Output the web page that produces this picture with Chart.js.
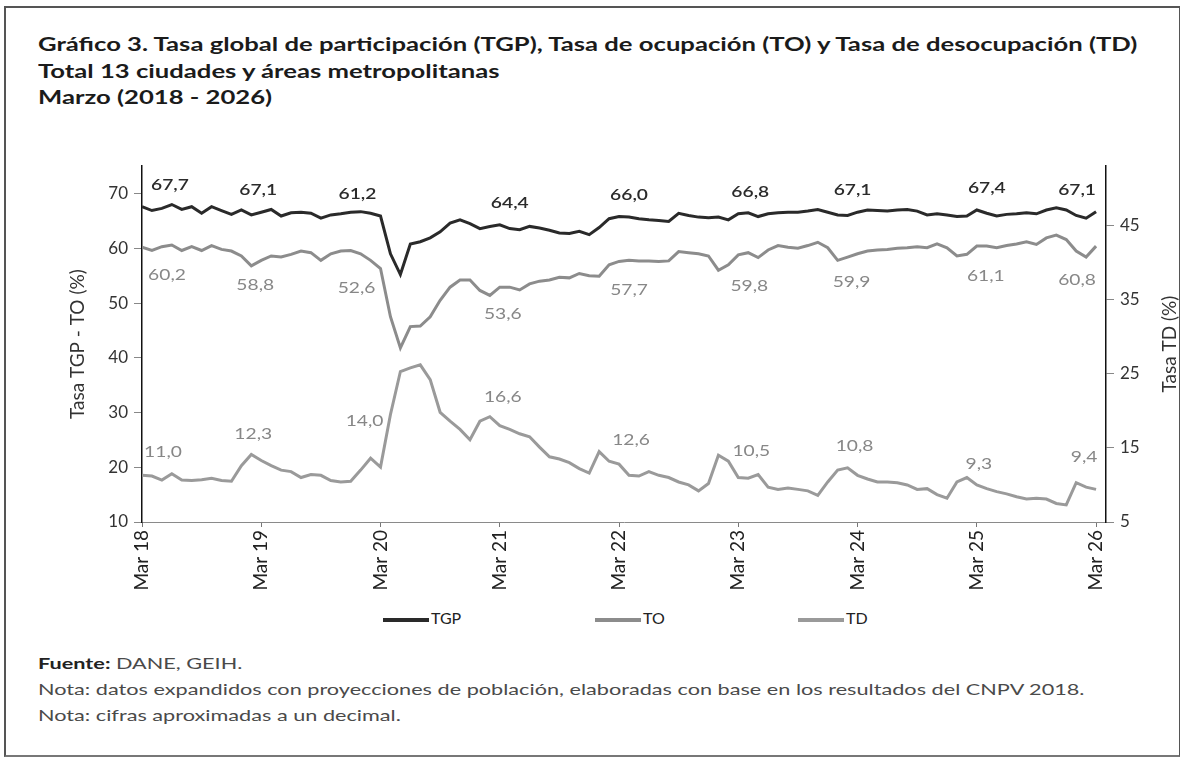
<!DOCTYPE html>
<html lang="es">
<head>
  <meta charset="UTF-8">
  <title>Gráfico 3. TGP, TO y TD</title>
  <style>
    body {
      margin: 0;
      background: #fff;
      font-family: Lato, "Open Sans", sans-serif;
    }
    .page {
      position: relative;
      width: 1185px;
      height: 762px;
      overflow: hidden;
    }
    .frame {
      position: absolute;
      left: 4px;
      top: 6px;
      width: 1176px;
      height: 751px;
      border: 2px solid #555;
      border-right-width: 1px;
      border-bottom-color: #777;
      box-sizing: border-box;
    }
    .title {
      position: absolute;
      left: 38px;
      top: 31px;
      font-weight: 700;
      font-size: 19px;
      line-height: 26.5px;
      color: #1b1b1b;
      white-space: nowrap;
      transform: scaleX(1.35);
      transform-origin: 0 0;
    }
    .chart-box {
      position: absolute;
      left: 60px;
      top: 150px;
    }
    .legend div {
      position: absolute;
      top: 609px;
      font-size: 16px;
      color: #222;
      height: 18px;
      line-height: 18px;
      white-space: nowrap;
    }
    .legend i {
      display: inline-block;
      width: 46px;
      height: 4px;
      vertical-align: middle;
      margin-right: 2px;
    }
    .notes {
      position: absolute;
      left: 38px;
      top: 650px;
      font-size: 16px;
      line-height: 26px;
      color: #4a4a4a;
      white-space: nowrap;
      transform: scaleX(1.354);
      transform-origin: 0 0;
    }
    .notes b { color: #222; }
  </style>
</head>
<body>
<div class="page">
  <div class="frame"></div>
  <div class="title">
    Gráfico 3. Tasa global de participación (TGP), Tasa de ocupación (TO) y Tasa de desocupación (TD)<br>
    Total 13 ciudades y áreas metropolitanas<br>
    Marzo (2018 - 2026)
  </div>

  <div class="chart-box">
    <canvas id="chart" width="1120" height="450"></canvas>
  </div>

  <div class="legend">
    <div style="left:383px"><i style="background:#2a2a2a"></i>TGP</div>
    <div style="left:595px"><i style="background:#8c8c8c"></i>TO</div>
    <div style="left:798px"><i style="background:#9a9a9a"></i>TD</div>
  </div>

  <div class="notes">
    <b>Fuente:</b> DANE, GEIH.<br>
    Nota: datos expandidos con proyecciones de población, elaboradas con base en los resultados del CNPV 2018.<br>
    Nota: cifras aproximadas a un decimal.
  </div>
</div>

<script src="https://cdn.jsdelivr.net/npm/chart.js"></script>
<script>
  // eje x: un punto por mes, de marzo 2018 a marzo 2026
  const tickLabels = ['Mar 18', 'Mar 19', 'Mar 20', 'Mar 21', 'Mar 22', 'Mar 23', 'Mar 24', 'Mar 25', 'Mar 26'];
  const leftTicks = [10, 20, 30, 40, 50, 60, 70];
  const rightTicks = [5, 15, 25, 35, 45];

  // Tasa global de participación (eje izquierdo)
  const tgp = [
    67.6, 66.9, 67.3, 68.0, 67.1, 67.6, 66.4, 67.6, 66.9, 66.2,
    67.0, 66.1, 66.6, 67.1, 65.9, 66.5, 66.6, 66.4, 65.5, 66.1,
    66.3, 66.6, 66.7, 66.4, 65.9, 59.0, 55.2, 60.8, 61.2, 61.9,
    63.0, 64.6, 65.2, 64.5, 63.6, 64.0, 64.3, 63.6, 63.4, 64.0,
    63.7, 63.3, 62.8, 62.7, 63.1, 62.5, 63.8, 65.4, 65.8, 65.7,
    65.4, 65.2, 65.1, 64.9, 66.4, 66.0, 65.7, 65.6, 65.7, 65.2,
    66.3, 66.5, 65.8, 66.3, 66.5, 66.6, 66.6, 66.8, 67.1, 66.6,
    66.1, 66.0, 66.6, 67.0, 66.9, 66.8, 67.0, 67.1, 66.8, 66.1,
    66.3, 66.1, 65.8, 65.9, 67.0, 66.4, 65.9, 66.2, 66.3, 66.5,
    66.3, 67.0, 67.4, 67.0, 66.0, 65.5, 66.7
  ];

  // Tasa de ocupación (eje izquierdo)
  const to = [
    60.2, 59.6, 60.3, 60.6, 59.6, 60.3, 59.6, 60.5, 59.8, 59.5,
    58.6, 56.8, 57.8, 58.6, 58.4, 58.9, 59.5, 59.2, 57.8, 59.0,
    59.5, 59.6, 59.0, 57.8, 56.3, 47.5, 41.8, 45.7, 45.8, 47.5,
    50.5, 52.9, 54.2, 54.2, 52.3, 51.4, 52.9, 52.9, 52.4, 53.5,
    54.0, 54.2, 54.7, 54.6, 55.4, 55.0, 54.9, 57.0, 57.6, 57.8,
    57.7, 57.7, 57.6, 57.7, 59.4, 59.2, 59.0, 58.6, 56.0, 57.0,
    58.8, 59.2, 58.3, 59.7, 60.5, 60.2, 60.0, 60.5, 61.1, 60.1,
    57.8, 58.4, 59.0, 59.5, 59.7, 59.8, 60.0, 60.1, 60.3, 60.1,
    60.8, 60.1, 58.6, 58.9, 60.4, 60.4, 60.1, 60.5, 60.8, 61.2,
    60.7, 61.9, 62.4, 61.6, 59.5, 58.4, 60.4
  ];

  // Tasa de desocupación (eje derecho)
  const td = [
    11.3, 11.2, 10.65, 11.5, 10.65, 10.6, 10.7, 10.9, 10.6, 10.5,
    12.6, 14.1, 13.3, 12.6, 12.0, 11.8, 11.0, 11.4, 11.3, 10.6,
    10.4, 10.5, 12.0, 13.6, 12.4, 19.5, 25.3, 25.8, 26.2, 24.2,
    19.8, 18.6, 17.5, 16.1, 18.6, 19.2, 18.0, 17.5, 16.9, 16.5,
    15.1, 13.8, 13.5, 13.0, 12.2, 11.6, 14.5, 13.2, 12.8, 11.3,
    11.2, 11.8, 11.3, 11.0, 10.4, 10.0, 9.2, 10.2, 14.0, 13.2,
    11.0, 10.9, 11.4, 9.7, 9.4, 9.6, 9.4, 9.2, 8.6, 10.4,
    12.0, 12.3, 11.3, 10.8, 10.4, 10.4, 10.3, 10.0, 9.4, 9.5,
    8.7, 8.2, 10.4, 11.0, 10.0, 9.5, 9.1, 8.8, 8.4, 8.1,
    8.2, 8.1, 7.5, 7.3, 10.3, 9.7, 9.4
  ];

  // cifras rotuladas en cada marzo
  const tgpMarch = [67.7, 67.1, 61.2, 64.4, 66.0, 66.8, 67.1, 67.4, 67.1];
  const toMarch = [60.2, 58.8, 52.6, 53.6, 57.7, 59.8, 59.9, 61.1, 60.8];
  const tdMarch = [11.0, 12.3, 14.0, 16.6, 12.6, 10.5, 10.8, 9.3, 9.4];

  // desplazamientos de los rótulos (px) respecto al punto de marzo
  const labelPos = {
    tgp: { dx: [28, -3, -23, 10, 10, 12, -5, 10, -19], dy: [-22, -22, -22, -22, -22, -22, -22, -22, -22] },
    to: { dx: [25, -6, -24, 3, 10, 11, -6, 9, -19], dy: [28, 24, 19, 27, 28, 31, 28, 30, 34] },
    td: { dx: [21, -8, -16, 3, 12, 13, -3, 2, -12], dy: [-23, -27, -46, -29, -24, -27, -29, -21, -33] }
  };

  const toXY = arr => arr.map((v, i) => ({ x: i, y: v }));
  const fixTicks = list => s => { s.ticks = list.map(v => ({ value: v })); };

  const marchLabels = {
    id: 'marchLabels',
    afterDatasetsDraw(chart) {
      const { ctx, scales } = chart;
      const groups = [
        { vals: tgpMarch, series: tgp, scale: scales.y, pos: labelPos.tgp, color: '#2b2b2b', font: '600 16px Lato' },
        { vals: toMarch, series: to, scale: scales.y, pos: labelPos.to, color: '#878787', font: '16px Lato' },
        { vals: tdMarch, series: td, scale: scales.y2, pos: labelPos.td, color: '#878787', font: '16px Lato' }
      ];
      ctx.save();
      ctx.textAlign = 'center';
      ctx.textBaseline = 'middle';
      groups.forEach(g => {
        ctx.fillStyle = g.color;
        ctx.font = g.font;
        g.vals.forEach((v, k) => {
          const idx = k * 12;
          const px = scales.x.getPixelForValue(idx) + g.pos.dx[k];
          const py = g.scale.getPixelForValue(g.series[idx]) + g.pos.dy[k];
          ctx.save();
          ctx.translate(px, py);
          ctx.scale(1.2, 1);
          ctx.fillText(v.toFixed(1).replace('.', ','), 0, 0);
          ctx.restore();
        });
      });
      // título del eje derecho, leído de abajo hacia arriba
      const area = chart.chartArea;
      ctx.translate(1110, (area.top + area.bottom) / 2);
      ctx.rotate(-Math.PI / 2);
      ctx.font = '19px Lato';
      ctx.fillStyle = '#333';
      ctx.fillText('Tasa TD (%)', 0, 0);
      ctx.restore();
    }
  };

  new Chart(document.getElementById('chart'), {
    type: 'line',
    data: {
      datasets: [
        { label: 'TGP', data: toXY(tgp), yAxisID: 'y', borderColor: '#2a2a2a', borderWidth: 3 },
        { label: 'TO', data: toXY(to), yAxisID: 'y', borderColor: '#8c8c8c', borderWidth: 3 },
        { label: 'TD', data: toXY(td), yAxisID: 'y2', borderColor: '#9a9a9a', borderWidth: 3 }
      ]
    },
    options: {
      responsive: false,
      animation: false,
      layout: { padding: { top: 12 } },
      elements: { point: { radius: 0 }, line: { tension: 0 } },
      plugins: { legend: { display: false }, tooltip: { enabled: false } },
      scales: {
        x: {
          type: 'linear',
          min: 0,
          max: 97,
          afterBuildTicks: fixTicks(tickLabels.map((t, k) => k * 12)),
          afterFit: s => { s.height = 78; },
          ticks: {
            autoSkip: false,
            minRotation: 90,
            maxRotation: 90,
            padding: 3,
            color: '#222',
            font: { family: 'Lato', size: 19 },
            callback: v => tickLabels[v / 12]
          },
          grid: { drawOnChartArea: false, tickLength: 5, color: '#777' },
          border: { color: '#8a8a8a', width: 1, dash: [2, 1] }
        },
        y: {
          position: 'left',
          min: 10,
          max: 75,
          afterBuildTicks: fixTicks(leftTicks),
          afterFit: s => { s.width = 82; },
          ticks: { padding: 6, color: '#333', font: { family: 'Lato', size: 17 } },
          grid: { drawOnChartArea: false, tickLength: 8, color: '#888' },
          border: { color: '#111', width: 1.5 },
          title: { display: true, text: 'Tasa TGP - TO (%)', color: '#333', font: { family: 'Lato', size: 19 }, padding: { top: 6, bottom: 0 } }
        },
        y2: {
          position: 'right',
          min: 5,
          max: 53,
          afterBuildTicks: fixTicks(rightTicks),
          afterFit: s => { s.width = 74; },
          ticks: { padding: 6, color: '#333', font: { family: 'Lato', size: 17 } },
          grid: { drawOnChartArea: false, tickLength: 8, color: '#888' },
          border: { color: '#111', width: 1.5 }
        }
      }
    },
    plugins: [marchLabels]
  });
</script>
</body>
</html>
